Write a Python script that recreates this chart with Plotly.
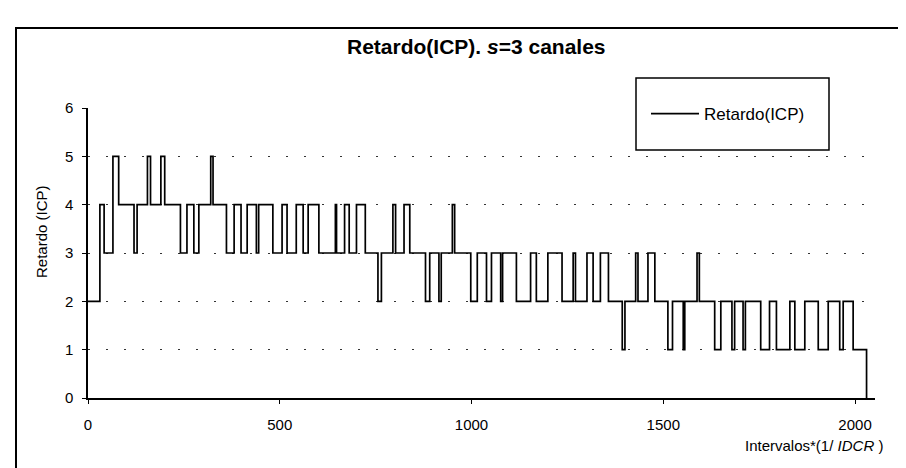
import plotly.graph_objects as go

# Step data: x where each level starts, and the level value
x_start = [0, 31, 42, 65, 80, 120, 128, 155, 163, 190, 200, 241, 258, 276, 289, 320, 326,
           361, 381, 399, 415, 439, 445, 482, 506, 519, 543, 561, 574, 602, 645, 648, 669,
           681, 700, 723, 756, 765, 795, 802, 824, 839, 880, 891, 915, 921, 950, 956, 998,
           1015, 1039, 1052, 1076, 1081, 1117, 1154, 1169, 1199, 1236, 1265, 1271, 1301,
           1317, 1336, 1357, 1393, 1400, 1428, 1434, 1460, 1478, 1512, 1524, 1552, 1556,
           1588, 1594, 1634, 1650, 1679, 1686, 1708, 1714, 1754, 1777, 1795, 1830, 1843,
           1869, 1904, 1930, 1960, 1969, 1995, 2030]
retardo = [2, 4, 3, 5, 4, 3, 4, 5, 4, 5, 4, 3, 4, 3, 4, 5, 4,
           3, 4, 3, 4, 3, 4, 3, 4, 3, 4, 3, 4, 3, 4, 3, 4,
           3, 4, 3, 2, 3, 4, 3, 4, 3, 2, 3, 2, 3, 4, 3, 2,
           3, 2, 3, 2, 3, 2, 3, 2, 3, 2, 3, 2, 3,
           2, 3, 2, 1, 2, 3, 2, 3, 2, 1, 2, 1, 2,
           3, 2, 1, 2, 1, 2, 1, 2, 1, 2, 1, 2, 1,
           2, 1, 2, 1, 2, 1, 0]

x_ticks = [0, 500, 1000, 1500, 2000]
y_ticks = [0, 1, 2, 3, 4, 5, 6]

series_name = "Retardo(ICP)"
title_text = "<b>Retardo(ICP). <i>s</i>=3 canales</b>"
x_title = "Intervalos*(1/ <i>IDCR</i> )"
y_title = "Retardo (ICP)"

W, H = 906, 468
L, R, T, B = 80, 867, 100, 390   # plot area in pixels
def px(xp):
    return (xp - L) / (R - L)
def py(yp):
    return (B - yp) / (B - T)

FONT = "Liberation Sans, Arial, sans-serif"

fig = go.Figure()
fig.add_trace(go.Scatter(
    x=x_start, y=retardo, mode="lines", line_shape="hv",
    line=dict(color="black", width=1.7), name=series_name, showlegend=True,
))

fig.update_layout(
    width=W, height=H,
    margin=dict(l=L, r=W - R, t=T, b=H - B),
    paper_bgcolor="white", plot_bgcolor="white",
    font=dict(family=FONT, size=15, color="black"),
    showlegend=True,
    legend=dict(x=px(638), y=py(106), xanchor="left", yanchor="middle",
                bgcolor="rgba(0,0,0,0)", borderwidth=0, itemwidth=48,
                font=dict(size=17, family=FONT, color="black")),
    xaxis=dict(range=[0, 2052], tickvals=x_ticks, ticks="outside", ticklen=4,
               tickwidth=1, tickcolor="black", showline=True, linecolor="black",
               linewidth=1.5, showgrid=False, zeroline=False,
               ticklabelstandoff=8, tickfont=dict(size=15)),
    yaxis=dict(range=[0, 6], tickvals=y_ticks, ticks="outside", ticklen=4,
               tickwidth=1, tickcolor="black", showline=True, linecolor="black",
               linewidth=1.5, showgrid=True, gridcolor="#333333", gridwidth=1,
               griddash="2px,16px", zeroline=False, ticklabelstandoff=6,
               tickfont=dict(size=15)),
    shapes=[
        # outer chart frame
        dict(type="rect", xref="paper", yref="paper",
             x0=px(8), x1=px(915), y0=py(480), y1=py(20),
             line=dict(color="black", width=2), fillcolor="rgba(0,0,0,0)", layer="below"),
        # legend box
        dict(type="rect", xref="paper", yref="paper",
             x0=px(628), x1=px(821), y0=py(142), y1=py(70),
             line=dict(color="black", width=1.5), fillcolor="white", layer="above"),
    ],
    annotations=[
        dict(text=title_text, xref="paper", yref="paper", x=px(468), y=py(39),
             xanchor="center", yanchor="middle", showarrow=False,
             font=dict(size=21, family=FONT, color="black")),
        dict(text=x_title, xref="paper", yref="paper", x=px(877), y=py(437),
             xanchor="right", yanchor="middle", showarrow=False,
             font=dict(size=15, family=FONT, color="black")),
        dict(text=y_title, xref="paper", yref="paper", x=px(33), y=py(224),
             xanchor="center", yanchor="middle", showarrow=False, textangle=-90,
             font=dict(size=15, family=FONT, color="black")),
    ],
)

fig.write_html("out.html")
